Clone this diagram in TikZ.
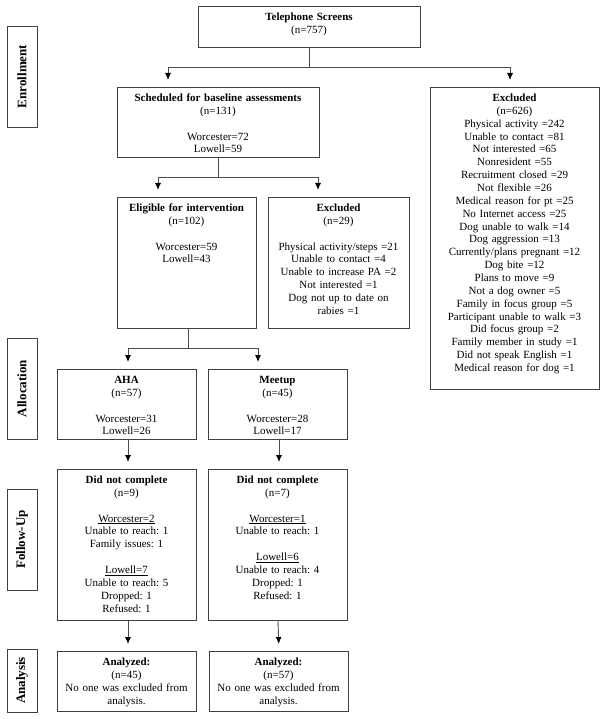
\documentclass[tikz,border=0pt]{standalone}
\usepackage{fontspec}
\setmainfont{Liberation Serif}
\usetikzlibrary{arrows.meta}
\tikzset{
  box/.style={draw=black!75, line width=0.9pt, anchor=north, align=center,
    inner xsep=2pt, inner ysep=4.5pt, text height=9.5pt,
    font=\fontsize{11}{12.86}\selectfont},
  stage/.style={draw=black!75, line width=0.9pt, rotate=90, align=center,
    inner sep=0pt, minimum height=30pt, font=\fontsize{13}{15}\selectfont\bfseries},
  conn/.style={draw=black!70, line width=0.9pt},
  arr/.style={conn, -{Latex[length=7pt,width=6pt,color=black]}, shorten >=7pt}
}

\begin{document}
\frenchspacing
\begin{tikzpicture}[x=1pt,y=-1pt]
\useasboundingbox (0,0) rectangle (605,719);

% stage labels on the left
\node[stage, minimum width=101pt] (enroll) at (22,76.5) {Enrollment};
\node[stage, minimum width=101pt] (alloc) at (22,388.5) {Allocation};
\node[stage, minimum width=101pt] (follow) at (22,539.5) {Follow-Up};
\node[stage, minimum width=63pt] (anal) at (22,680.5) {Analysis};

% enrollment
\node[box, text width=218pt, text depth=22.5pt] (tel) at (309,6)
  {\textbf{Telephone Screens}\\(n=757)};
\node[box, text width=198pt, text depth=51.5pt] (sched) at (218,87)
  {\textbf{Scheduled for baseline assessments}\\(n=131)\\[12.86pt]Worcester=72\\Lowell=59};
\node[box, text width=165pt, text depth=283.5pt] (excla) at (514.5,87)
  {\textbf{Excluded}\\(n=626)\\Physical activity =242\\Unable to contact =81\\
   Not interested =65\\Nonresident =55\\Recruitment closed =29\\Not flexible =26\\
   Medical reason for pt =25\\No Internet access =25\\Dog unable to walk =14\\
   Dog aggression =13\\Currently/plans pregnant =12\\Dog bite =12\\Plans to move =9\\
   Not a dog owner =5\\Family in focus group =5\\Participant unable to walk =3\\
   Did focus group =2\\Family member in study =1\\Did not speak English =1\\
   Medical reason for dog =1};
\node[box, text width=135pt, text depth=112.5pt] (elig) at (186.5,197)
  {\textbf{Eligible for intervention}\\(n=102)\\[12.86pt]Worcester=59\\Lowell=43};
\node[box, text width=137pt, text depth=112.5pt] (exclb) at (338.5,197)
  {\textbf{Excluded}\\(n=29)\\[12.86pt]Physical activity/steps =21\\Unable to contact =4\\
   Unable to increase PA =2\\Not interested =1\\Dog not up to date on\\rabies =1};

% allocation
\node[box, text width=135pt, text depth=51.5pt] (aha) at (126.5,369)
  {\textbf{AHA}\\(n=57)\\[12.86pt]Worcester=31\\Lowell=26};
\node[box, text width=135pt, text depth=51.5pt] (meet) at (277.5,369)
  {\textbf{Meetup}\\(n=45)\\[12.86pt]Worcester=28\\Lowell=17};

% follow-up
\node[box, text width=135pt, text depth=132.5pt] (dnca) at (126.5,469)
  {\textbf{Did not complete}\\(n=9)\\[12.86pt]\underline{Worcester=2}\\Unable to reach: 1\\
   Family issues: 1\\[12.86pt]\underline{Lowell=7}\\Unable to reach: 5\\Dropped: 1\\Refused: 1};
\node[box, text width=135pt, text depth=132.5pt] (dncb) at (277.5,469)
  {\textbf{Did not complete}\\(n=7)\\[12.86pt]\underline{Worcester=1}\\Unable to reach: 1\\[12.86pt]
   \underline{Lowell=6}\\Unable to reach: 4\\Dropped: 1\\Refused: 1};

% analysis
\node[box, text width=135pt, text depth=41.5pt] (anaa) at (126.5,651)
  {\textbf{Analyzed:}\\(n=45)\\No one was excluded from\\analysis.};
\node[box, text width=135pt, text depth=41.5pt] (anab) at (278.5,651)
  {\textbf{Analyzed:}\\(n=57)\\No one was excluded from\\analysis.};

% the arrows
\draw[conn] (tel.south) -- ++(0,20) coordinate (t1);
\draw[arr] (t1) -| ([xshift=-50pt]sched.north);
\draw[arr] (t1) -| ([xshift=-4.5pt]excla.north);
\draw[conn] (sched.south) -- ++(0,20) coordinate (t2);
\draw[arr] (t2) -| ([xshift=-28.5pt]elig.north);
\draw[arr] (t2) -| ([xshift=-20.5pt]exclb.north);
\draw[conn] ([xshift=1.5pt]elig.south) -- ++(0,20) coordinate (t3);
\draw[arr] (t3) -| ([xshift=1.5pt]aha.north);
\draw[arr] (t3) -| ([xshift=-19.5pt]meet.north);
\draw[arr] ([xshift=1.5pt]aha.south) -- ([xshift=1.5pt]dnca.north);
\draw[arr] ([xshift=1.5pt]meet.south) -- ([xshift=1.5pt]dncb.north);
\draw[arr] ([xshift=1.5pt]dnca.south) -- ([xshift=1.5pt]anaa.north);
\draw[arr] ([xshift=0.5pt]dncb.south) -- ([xshift=0.5pt]anab.north);
\end{tikzpicture}
\end{document}
